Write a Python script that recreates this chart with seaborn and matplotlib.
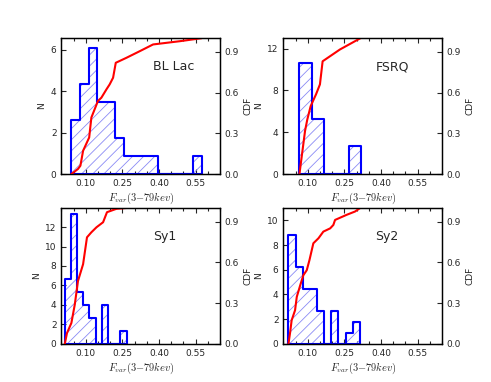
import matplotlib
matplotlib.use("Agg")
import matplotlib.pyplot as plt
from matplotlib.ticker import MultipleLocator
import seaborn as sns

# histogram bins (edges) and heights
bllac_edges = [0.041, 0.077, 0.112, 0.148, 0.184, 0.220, 0.255, 0.291,
               0.327, 0.362, 0.398, 0.434, 0.470, 0.505, 0.541, 0.577]
bllac_heights = [2.61, 4.35, 6.09, 3.48, 3.48, 1.74, 0.87, 0.87,
                 0.87, 0.87, 0, 0, 0, 0, 0.87]

fsrq_edges = [0.066, 0.117, 0.167, 0.218, 0.268, 0.319]
fsrq_heights = [10.6, 5.3, 0, 0, 2.65]

sy1_edges = [0.014, 0.039, 0.064, 0.090, 0.115, 0.140, 0.166, 0.191,
             0.216, 0.242, 0.267]
sy1_heights = [6.67, 13.33, 5.33, 4.0, 2.67, 0, 4.0, 0, 0, 1.33]

sy2_edges = [0.021, 0.050, 0.079, 0.109, 0.138, 0.168, 0.197, 0.226,
             0.256, 0.285, 0.315]
sy2_heights = [8.85, 6.2, 4.42, 4.42, 2.65, 0, 2.65, 0, 0.88, 1.77]

# cumulative distributions (red curves)
bllac_cdf_x = [0.041, 0.068, 0.078, 0.089, 0.114, 0.123, 0.150, 0.164, 0.185,
               0.198, 0.212, 0.223, 0.267, 0.322, 0.376, 0.486, 0.575]
bllac_cdf_y = [0.0, 0.037, 0.061, 0.171, 0.269, 0.416, 0.538, 0.562, 0.624,
               0.660, 0.709, 0.819, 0.856, 0.905, 0.954, 0.978, 1.0]

fsrq_cdf_x = [0.066, 0.089, 0.098, 0.112, 0.134, 0.150, 0.161, 0.232, 0.316]
fsrq_cdf_y = [0.0, 0.318, 0.40, 0.50, 0.587, 0.66, 0.83, 0.917, 1.0]

sy1_cdf_x = [0.014, 0.023, 0.041, 0.055, 0.068, 0.089, 0.105, 0.123, 0.144,
             0.171, 0.187, 0.226, 0.267]
sy1_cdf_y = [0.0, 0.079, 0.153, 0.289, 0.462, 0.586, 0.784, 0.821, 0.858,
             0.895, 0.969, 0.994, 1.0]

sy2_cdf_x = [0.021, 0.028, 0.034, 0.048, 0.055, 0.069, 0.082, 0.096, 0.107,
             0.123, 0.144, 0.164, 0.192, 0.205, 0.212, 0.260, 0.294, 0.315]
sy2_cdf_y = [0.0, 0.086, 0.173, 0.247, 0.345, 0.43, 0.505, 0.542, 0.616,
             0.74, 0.777, 0.826, 0.85, 0.875, 0.912, 0.95, 0.974, 1.0]

names = ["BL Lac", "FSRQ", "Sy1", "Sy2"]
x_ticks = [0.10, 0.25, 0.40, 0.55]
cdf_ticks = [0.0, 0.3, 0.6, 0.9]

sns.set_style("ticks")
plt.rcParams["font.family"] = ["DejaVu Sans"]
plt.rcParams["mathtext.fontset"] = "cm"
plt.rcParams["hatch.linewidth"] = 0.6
plt.rcParams["xtick.direction"] = "in"
plt.rcParams["ytick.direction"] = "in"

panels = [
    (bllac_edges, bllac_heights, bllac_cdf_x, bllac_cdf_y, 6.55, 2),
    (fsrq_edges, fsrq_heights, fsrq_cdf_x, fsrq_cdf_y, 13.0, 4),
    (sy1_edges, sy1_heights, sy1_cdf_x, sy1_cdf_y, 13.96, 2),
    (sy2_edges, sy2_heights, sy2_cdf_x, sy2_cdf_y, 11.0, 2),
]

fig, axes = plt.subplots(2, 2, figsize=(4.91, 3.82), dpi=100)
fig.subplots_adjust(left=0.125, right=0.9, bottom=0.1, top=0.9,
                    wspace=0.4, hspace=0.25)

for ax, name, (edges, heights, cx, cy, ytop, ystep) in zip(axes.flat, names, panels):
    centers = [(a + b) / 2 for a, b in zip(edges[:-1], edges[1:])]
    # hatched fill
    sns.histplot(x=centers, weights=heights, bins=list(edges), element="step",
                 fill=True, color="#8a8af5", facecolor="none",
                 edgecolor="#8a8af5", hatch="///", linewidth=0, ax=ax)
    # blue outline
    sns.histplot(x=centers, weights=heights, bins=list(edges), element="step",
                 fill=True, color="blue", facecolor="none", edgecolor="blue",
                 linewidth=1.5, ax=ax)
    ax.set_xlim(0, 0.65)
    ax.set_ylim(0, ytop)
    ax.set_xticks(x_ticks)
    ax.set_xticklabels(["%.2f" % t for t in x_ticks])
    ax.xaxis.set_minor_locator(MultipleLocator(0.05))
    ax.yaxis.set_major_locator(MultipleLocator(ystep))
    ax.tick_params(which="both", top=True, right=False, labelsize=6.5,
                   direction="in", width=0.8)
    ax.tick_params(which="major", length=3.5)
    ax.tick_params(which="minor", length=2)
    ax.set_xlabel(r"$F_{var}(3{-}79kev)$", fontsize=7.5, labelpad=2)
    ax.set_ylabel("N", fontsize=6.5, labelpad=3)
    for sp in ax.spines.values():
        sp.set_linewidth(0.9)
        sp.set_color("black")
    ax.text(0.58, 0.79, name, transform=ax.transAxes, fontsize=9,
            va="center", ha="left")

    ax2 = ax.twinx()
    sns.lineplot(x=cx, y=cy, ax=ax2, color="red", linewidth=1.5,
                 estimator=None, sort=False)
    ax2.set_ylim(0, 1.0)
    ax2.set_yticks(cdf_ticks)
    ax2.set_yticklabels(["%.1f" % t for t in cdf_ticks])
    ax2.tick_params(which="both", right=True, left=False, labelsize=6.5,
                    direction="in", width=0.8, length=3.5)
    ax2.set_ylabel("CDF", fontsize=6.5, labelpad=3)
    for sp in ax2.spines.values():
        sp.set_linewidth(0.9)
        sp.set_color("black")

fig.savefig("out.png", dpi=100)
